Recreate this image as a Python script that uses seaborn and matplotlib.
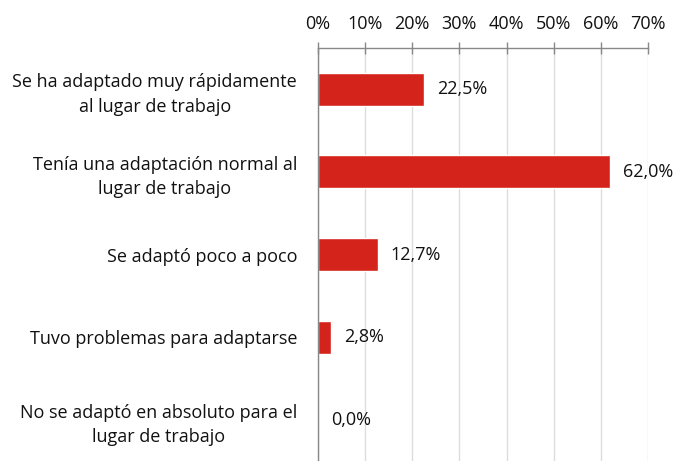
import numpy as np
import pandas as pd
import seaborn as sns
import matplotlib.pyplot as plt
from matplotlib.ticker import FixedLocator, PercentFormatter

categories = ['Se ha adaptado muy rápidamente\nal lugar de trabajo',
              'Tenía una adaptación normal al\nlugar de trabajo',
              'Se adaptó poco a poco',
              'Tuvo problemas para adaptarse',
              'No se adaptó en absoluto para el\nlugar de trabajo']
values = [22.5, 62.0, 12.7, 2.8, 0.0]
ticks = [0, 10, 20, 30, 40, 50, 60, 70]

sns.set_style('white')
plt.rcParams['font.family'] = ['Open Sans', 'DejaVu Sans']
plt.rcParams['text.color'] = '#111111'
fs = 13

df = pd.DataFrame({'cat': categories, 'val': values})

fig = plt.figure(figsize=(6.73, 4.61), dpi=100)
ax = fig.add_axes([318/673, 0, 330/673, 1 - 48/461])
sns.barplot(data=df, y='cat', x='val', orient='h', color='#d4231b',
            saturation=1, width=0.4, ax=ax)

ax.set_xlim(0, 70)
ax.set_ylim(4.5, -0.5)
ax.set_xticks(ticks)
ax.xaxis.set_major_formatter(PercentFormatter(decimals=0))
ax.xaxis.tick_top()
ax.tick_params(axis='x', direction='inout', length=8, width=1, color='#888888',
               labelsize=fs, labelcolor='#111111', pad=7)
ax.grid(axis='x', color='#dddddd', linewidth=1)
ax.set_axisbelow(True)

ax.yaxis.set_minor_locator(FixedLocator(np.arange(0.5, 4.5, 1)))
ax.tick_params(axis='y', which='major', length=0, labelsize=fs, labelcolor='#111111', pad=15)
ax.tick_params(axis='y', which='minor', length=6, width=1, color='#888888', direction='out')
for lbl in ax.get_yticklabels():
    lbl.set_horizontalalignment('right')
    lbl.set_multialignment('center')
    lbl.set_linespacing(1.45)

for s in ['right', 'bottom']:
    ax.spines[s].set_visible(False)
for s in ['top', 'left']:
    ax.spines[s].set_color('#888888')
    ax.spines[s].set_linewidth(1)

ax.set_xlabel('')
ax.set_ylabel('')

for i, v in enumerate(values):
    ax.text(v + 2.7, i, f'{v:.1f}%'.replace('.', ','), va='center', ha='left', fontsize=fs)

fig.savefig('out.png', dpi=100)
